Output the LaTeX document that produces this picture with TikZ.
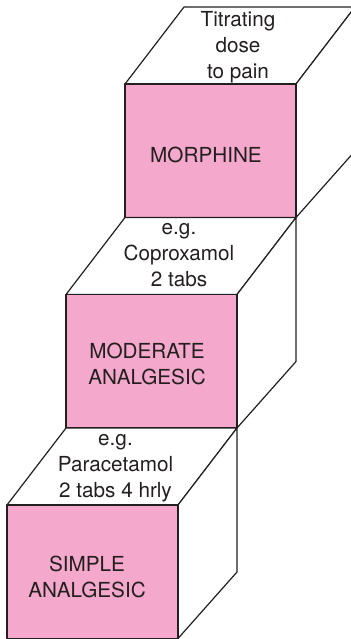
\documentclass[tikz,border=0pt]{standalone}
\usepackage{fontspec}
\setsansfont{TeX Gyre Heros}
\usepackage{tikz}
\usetikzlibrary{positioning}
\definecolor{stepink}{RGB}{244,168,203}
\definecolor{inkline}{RGB}{35,31,32}

\begin{document}
\begin{tikzpicture}[x=0.5pt, y=-0.5pt, line join=round,
    face/.style={draw=inkline, fill=white, line width=0.6pt},
    front/.style={face, fill=stepink},
    lbl/.style={align=center, text=inkline, font=\sffamily\fontsize{10.35}{13}\selectfont}]
  \useasboundingbox (0,0) rectangle (351,639);
  \clip (0,0) rectangle (351,639);
  % cubes, back one first
  \foreach \px/\py in {125/84, 66/294.5, 7/505} {
    \begin{scope}[shift={(\px,\py)}]
      % top face
      \draw[face] (0,0) -- (59,-77) -- (230,-77) -- (171,0) -- cycle;
      % side face
      \draw[face] (171,0) -- (230,-77) -- (230,67) -- (171,133.5) -- cycle;
      % front face
      \draw[front] (0,0) rectangle (171,133.5);
    \end{scope}
  }
  % top step
  \node[lbl] (titrate) at (238,47.7) {Titrating\\dose\\to pain};
  \node[lbl] (morphine) at (206,154.5) {MORPHINE};
  % middle step
  \node[lbl] (copro) at (179,254.6) {e.g.\\Coproxamol\\2 tabs};
  \node[lbl] (moderate) at (147,363.5) {MODERATE\\ANALGESIC};
  % bottom step
  \node[lbl] (paraceta) at (115.5,467.8) {e.g.\\Paracetamol\\2 tabs 4 hrly};
  \node[lbl] (simple) at (87,576.5) {SIMPLE\\ANALGESIC};
\end{tikzpicture}
\end{document}
